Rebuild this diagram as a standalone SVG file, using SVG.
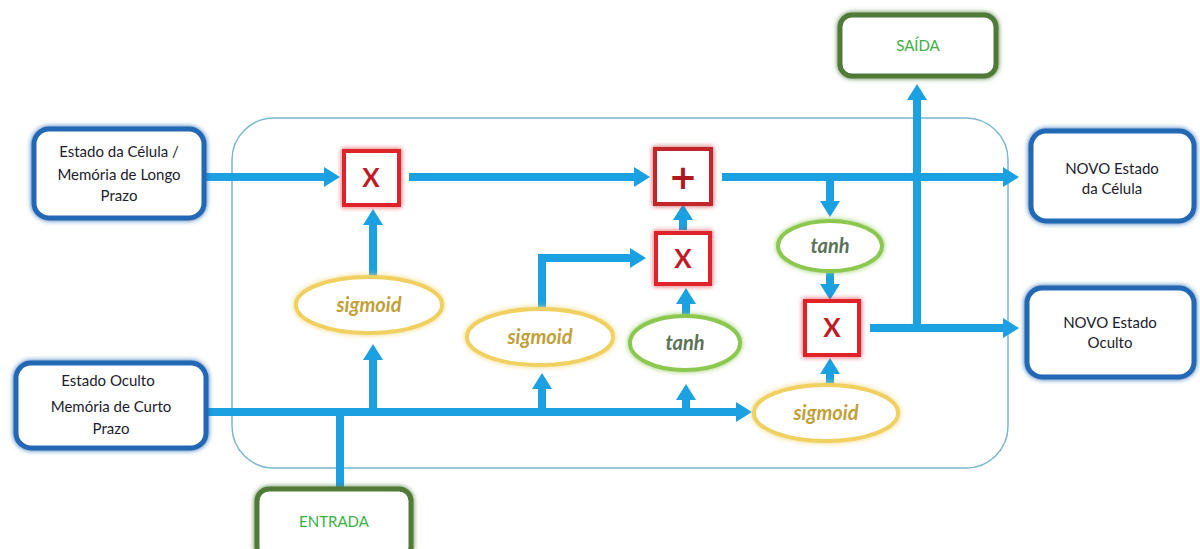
<svg xmlns="http://www.w3.org/2000/svg" width="1200" height="549" viewBox="0 0 1200 549">
<defs>
<filter id="glow" x="-20%" y="-20%" width="140%" height="140%"><feGaussianBlur in="SourceGraphic" stdDeviation="2.5" result="b"/><feMerge><feMergeNode in="b"/><feMergeNode in="SourceGraphic"/></feMerge></filter>
<marker id="ah" viewBox="0 0 16 20" refX="2" refY="10" markerWidth="16" markerHeight="20" markerUnits="userSpaceOnUse" orient="auto"><path d="M0,0 L16,10 L0,20 Z" fill="#1ba1e2"/></marker>
</defs>
<style>
.bbox{fill:#fff;stroke:#2468b4;stroke-width:5;filter:url(#glow)}
.gbox{fill:#fff;stroke:#4f7a38;stroke-width:5;filter:url(#glow)}
.mul{fill:#fff;stroke:#e0222a;stroke-width:4;filter:url(#glow)}
.add{fill:#fff;stroke:#c0282c;stroke-width:4;filter:url(#glow)}
.sig{fill:#fff;stroke:#f0d060;stroke-width:4;filter:url(#glow)}
.tan{fill:#fff;stroke:#8cc850;stroke-width:4;filter:url(#glow)}
.t{font-family:Lato,"Noto Sans",sans-serif;font-size:15px;fill:#1c1c2c;text-anchor:middle}
.g{font-family:Lato,"Noto Sans",sans-serif;font-size:15px;fill:#3cb043;text-anchor:middle}
.op{font-family:Lato,"Noto Sans",sans-serif;font-size:26px;font-weight:bold;fill:#c01c28;text-anchor:middle}
.plus{font-family:"DejaVu Sans",sans-serif;font-size:34px;font-weight:bold;fill:#b01820;text-anchor:middle}
.st{font-family:Lato,"Noto Sans",sans-serif;font-size:20px;font-weight:bold;font-style:italic;text-anchor:middle}
.c{fill:none;stroke:#1ba1e2;stroke-width:8}
</style>
<rect x="232" y="118" width="776" height="350" rx="42" fill="none" stroke="#7cb8cc" stroke-width="1.5"/>
<g id="connectors">
<path class="c" d="M205,177 H326" marker-end="url(#ah)"/>
<path class="c" d="M409,177 H636" marker-end="url(#ah)"/>
<path class="c" d="M722,177 H1005" marker-end="url(#ah)"/>
<path class="c" d="M830,177 V203" marker-end="url(#ah)"/>
<path class="c" d="M830,272 V286" marker-end="url(#ah)"/>
<path class="c" d="M870,328 H1005" marker-end="url(#ah)"/>
<path class="c" d="M917,328 V98" marker-end="url(#ah)"/>
<path class="c" d="M207,412 H738" marker-end="url(#ah)"/>
<path class="c" d="M340,490 V412"/>
<path class="c" d="M373,412 V358" marker-end="url(#ah)"/>
<path class="c" d="M373,276 V223" marker-end="url(#ah)"/>
<path class="c" d="M542,412 V387" marker-end="url(#ah)"/>
<path class="c" d="M542,308 V258 H632" marker-end="url(#ah)"/>
<path class="c" d="M686,412 V398" marker-end="url(#ah)"/>
<path class="c" d="M686,315 V302" marker-end="url(#ah)"/>
<path class="c" d="M683,230 V218" marker-end="url(#ah)"/>
<path class="c" d="M830,385 V372" marker-end="url(#ah)"/>
</g>
<g id="n-cell"><rect class="bbox" x="34" y="129" width="170" height="89" rx="15"/><text class="t" x="119" y="157">Estado da Célula /</text><text class="t" x="119" y="180">Memória de Longo</text><text class="t" x="119" y="201">Prazo</text></g>
<g id="n-hidden"><rect class="bbox" x="16" y="363" width="190" height="85" rx="15"/><text class="t" x="108" y="386">Estado Oculto</text><text class="t" x="111" y="412">Memória de Curto</text><text class="t" x="111" y="434">Prazo</text></g>
<g id="n-entrada"><rect class="gbox" x="257" y="489" width="154" height="70" rx="12"/><text class="g" x="334" y="527">ENTRADA</text></g>
<g id="n-saida"><rect class="gbox" x="840" y="15" width="156" height="61" rx="12"/><text class="g" x="918" y="51">SAÍDA</text></g>
<g id="n-newcell"><rect class="bbox" x="1031" y="131" width="163" height="90" rx="15"/><text class="t" x="1112" y="174">NOVO Estado</text><text class="t" x="1112" y="194">da Célula</text></g>
<g id="n-newhidden"><rect class="bbox" x="1027" y="288" width="167" height="89" rx="15"/><text class="t" x="1110" y="328">NOVO Estado</text><text class="t" x="1110" y="348">Oculto</text></g>
<g id="n-x1"><rect class="mul" x="344" y="151" width="55" height="54"/><text class="op" x="371" y="187">X</text></g>
<g id="n-add"><rect class="add" x="655" y="149" width="56" height="55"/><text class="plus" x="683" y="189">+</text></g>
<g id="n-x2"><rect class="mul" x="656" y="233" width="54" height="51"/><text class="op" x="683" y="268">X</text></g>
<g id="n-x3"><rect class="mul" x="805" y="301" width="54" height="54"/><text class="op" x="832" y="337">X</text></g>
<g id="n-sig1"><ellipse class="sig" cx="369" cy="305" rx="73" ry="28"/><text class="st" x="369" y="312" fill="#c2a038">sigmoid</text></g>
<g id="n-sig2"><ellipse class="sig" cx="540" cy="337" rx="73" ry="28"/><text class="st" x="540" y="344" fill="#c2a038">sigmoid</text></g>
<g id="n-tanh1"><ellipse class="tan" cx="685" cy="343" rx="55" ry="27"/><text class="st" x="685" y="350" fill="#5a7258">tanh</text></g>
<g id="n-tanh2"><ellipse class="tan" cx="830" cy="246" rx="52" ry="25"/><text class="st" x="830" y="253" fill="#5a7258">tanh</text></g>
<g id="n-sig3"><ellipse class="sig" cx="826" cy="413" rx="72" ry="28"/><text class="st" x="826" y="420" fill="#c2a038">sigmoid</text></g>
</svg>
